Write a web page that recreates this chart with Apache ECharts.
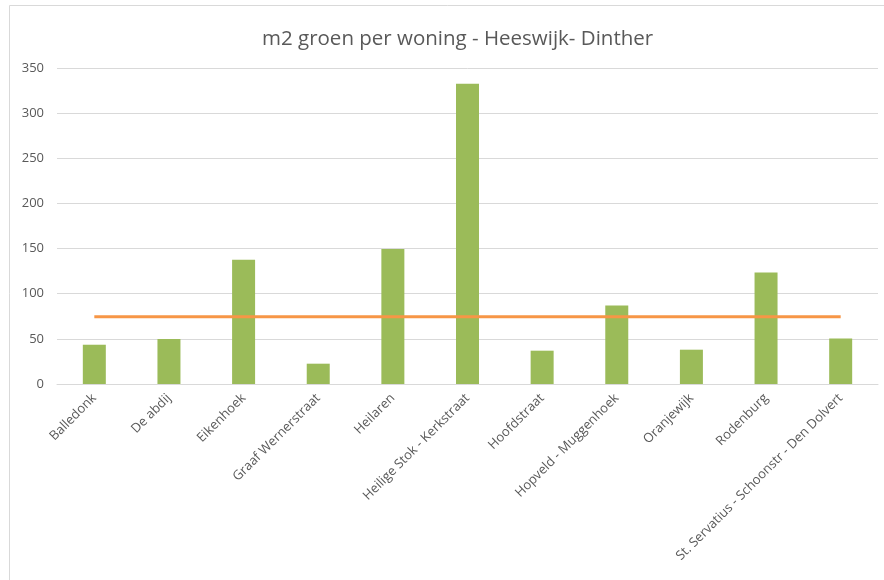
<!DOCTYPE html>
<html>
<head>
<meta charset="utf-8">
<script src="https://cdn.jsdelivr.net/npm/echarts@6/dist/echarts.min.js"></script>
<style>
html,body{margin:0;padding:0;background:#fff;}
#chart{width:884px;height:580px;}
</style>
</head>
<body>
<div id="chart"></div>
<script>
const titleText = 'm2 groen per woning - Heeswijk- Dinther';
const categories = ['Balledonk','De abdij','Eikenhoek','Graaf Wernerstraat','Heilaren','Heilige Stok - Kerkstraat','Hoofdstraat','Hopveld - Muggenhoek','Oranjewijk','Rodenburg','St. Servatius - Schoonstr - Den Dolvert'];
const greenValues = [43.5, 49.8, 137.7, 22.5, 149.5, 332.6, 36.9, 87, 38, 123.6, 50.5];
const averageValues = [74.5, 74.5, 74.5, 74.5, 74.5, 74.5, 74.5, 74.5, 74.5, 74.5, 74.5];
const yTicks = { min: 0, max: 350, interval: 50 };

const chart = echarts.init(document.getElementById('chart'), null, {renderer:'canvas'});
const font = '"Open Sans", "Noto Sans", sans-serif';
chart.setOption({
  animation: false,
  backgroundColor: '#ffffff',
  graphic: [{
    type: 'rect',
    shape: { x: 9.5, y: 5.5, width: 900, height: 600 },
    style: { fill: 'none', stroke: '#d9d9d9', lineWidth: 1 },
    silent: true
  }],
  title: {
    text: titleText,
    left: 257,
    top: 24,
    textStyle: { fontFamily: font, fontSize: 20.5, fontWeight: 'normal', color: '#595959' }
  },
  grid: { left: 57, right: 6, top: 68, bottom: 196, containLabel: false },
  xAxis: {
    type: 'category',
    data: categories,
    axisLine: { show: true, lineStyle: { color: '#d9d9d9', width: 1 } },
    axisTick: { show: false },
    axisLabel: {
      interval: 0,
      rotate: 45,
      margin: 12,
      fontFamily: font,
      fontSize: 13,
      color: '#595959'
    }
  },
  yAxis: {
    type: 'value',
    min: yTicks.min, max: yTicks.max, interval: yTicks.interval,
    axisLine: { show: false },
    axisTick: { show: false },
    splitLine: { lineStyle: { color: '#d9d9d9', width: 1 } },
    axisLabel: { margin: 13, fontFamily: font, fontSize: 13, color: '#595959' }
  },
  series: [
    {
      type: 'bar',
      data: greenValues,
      barWidth: 23,
      itemStyle: { color: '#9bbb59' }
    },
    {
      type: 'line',
      data: averageValues,
      symbol: 'none',
      lineStyle: { color: '#f79646', width: 3 },
      z: 5
    }
  ]
});
</script>
</body>
</html>
